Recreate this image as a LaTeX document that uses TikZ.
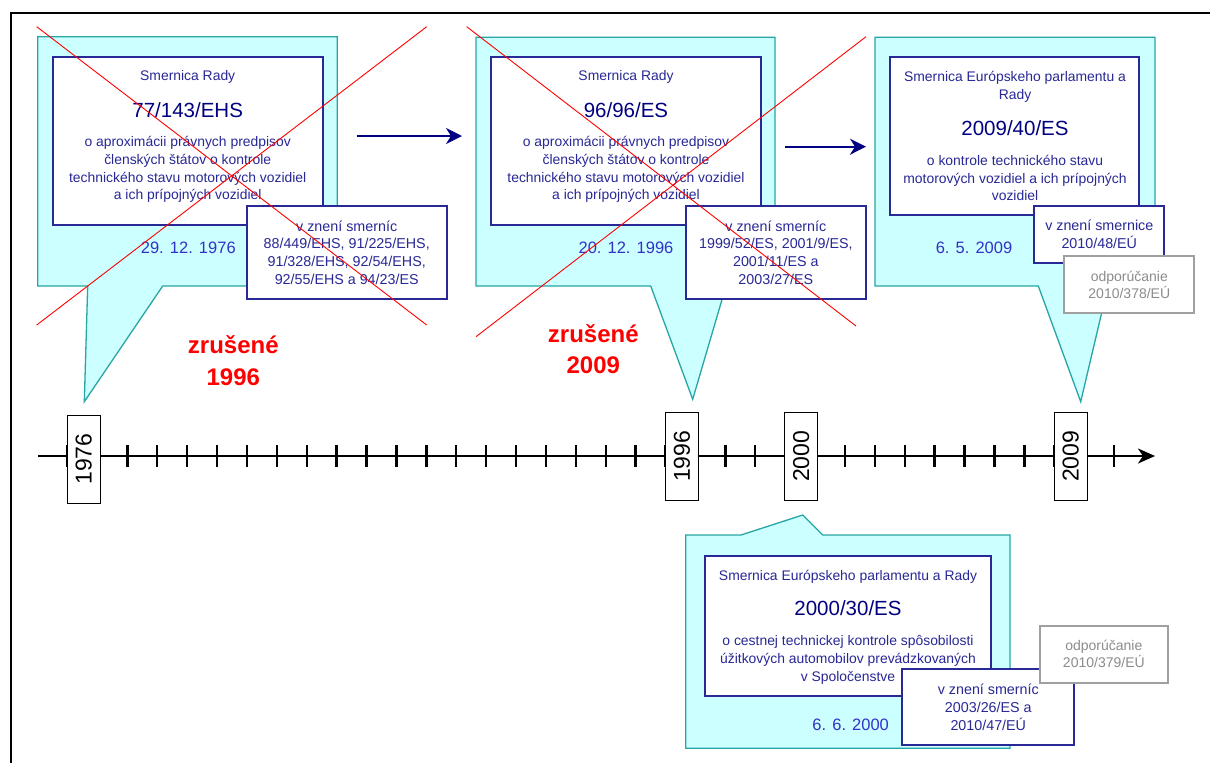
\documentclass[tikz,border=0pt]{standalone}
\usepackage{fontspec}
\setmainfont{Liberation Sans}
\usetikzlibrary{arrows.meta, positioning}
\definecolor{cfill}{RGB}{204,255,255}
\definecolor{cline}{RGB}{40,165,165}
\definecolor{bblue}{RGB}{40,40,150}
\definecolor{navy}{RGB}{0,0,128}
\definecolor{dblue}{RGB}{50,50,200}
\definecolor{gline}{RGB}{160,160,160}
\definecolor{gtext}{RGB}{140,140,140}
\newcommand{\fs}[2]{\fontsize{#1}{#2}\selectfont}

\begin{document}
\begin{tikzpicture}[
    x=1pt, y=-1pt,
    callout/.style={draw=cline, fill=cfill, line width=1.3pt},
    inbox/.style={draw=bblue, fill=white, line width=2pt, inner sep=0pt},
    title/.style={text=bblue, font=\fs{13.9}{17.4}, align=center},
    code/.style={text=navy, font=\fs{20.5}{24}},
    desc/.style={text=bblue, font=\fs{13.9}{17.6}, align=center},
    date/.style={text=dblue, font=\fs{16.5}{20}},
    zn/.style={draw=bblue, fill=white, line width=1.8pt, text=bblue, font=\fs{14.3}{17.7}, align=center, inner sep=0pt},
    rec/.style={draw=gline, fill=white, line width=1.8pt, text=gtext, font=\fs{14}{17.3}, align=center, inner sep=0pt},
    cross/.style={draw=red, line width=0.9pt},
    gone/.style={text=red, font=\bfseries\fs{24}{31.7}, align=center},
    arr/.style={-{Stealth[length=16pt,width=16pt,inset=5pt]}, line width=2pt, draw=navy},
    axis/.style={-{Stealth[length=17pt,width=15pt,inset=5pt]}, line width=2.5pt},
    tick/.style={line width=2.4pt},
    year/.style={draw, fill=white, line width=0.8pt, rotate=90, minimum width=88pt, minimum height=33pt, inner sep=0pt, font=\fs{23}{23}}
  ]
    \useasboundingbox (0,0) rectangle (1210,763);
    \draw[line width=2pt] (10.7,763) -- (10.7,13.3) -- (1210,13.3);

    \coordinate (tip76) at (84.3,401.7);
    \coordinate (tip96) at (692.7,399.3);
    \coordinate (tip09) at (1080.7,401.7);
    \coordinate (tip00) at (802.7,515);

    \draw[callout] (37.7,36.7) -- (337.3,36.7) -- (337.3,286) -- (162.7,286) -- (tip76) -- (87.7,286) -- (37.7,286) -- cycle;
    \draw[callout] (476,37.3) -- (775,37.3) -- (775,286) -- (726,286) -- (tip96) -- (650.7,286) -- (476,286) -- cycle;
    \draw[callout] (875,37.3) -- (1155,37.3) -- (1155,286) -- (1108,286) -- (tip09) -- (1038.3,286) -- (875,286) -- cycle;
    \draw[callout] (685.7,535) -- (741,535) -- (tip00) -- (822.7,535) -- (1010,535) -- (1010,748.3) -- (685.7,748.3) -- cycle;

    \node[inbox, minimum width=270pt, minimum height=168.6pt] (in76) at (187.7,141) {};
    \node[title] (t76) at (187.7,76.7) {Smernica Rady};
    \node[code]  (k76) at (187.7,110) {77/143/EHS};
    \node[desc]  (d76) at (187.7,169.6) {o aproximácii právnych predpisov\\členských štátov o kontrole\\technického stavu motorových vozidiel\\a ich prípojných vozidiel};
    \node[date]  (dt76) at (188.3,248.3) {29. 12. 1976};

    \node[inbox, minimum width=269.7pt, minimum height=168.6pt] (in96) at (625.85,141) {};
    \node[title] (t96) at (626,76.7) {Smernica Rady};
    \node[code]  (k96) at (626,110) {96/96/ES};
    \node[desc]  (d96) at (626,169.6) {o aproximácii právnych predpisov\\členských štátov o kontrole\\technického stavu motorových vozidiel\\a ich prípojných vozidiel};
    \node[date]  (dt96) at (626,248.3) {20. 12. 1996};

    \node[inbox, minimum width=249.3pt, minimum height=158.3pt] (in09) at (1014.65,135.85) {};
    \node[title] (t09) at (1015,87) {Smernica Európskeho parlamentu a\\Rady};
    \node[code]  (k09) at (1015,127.7) {2009/40/ES};
    \node[desc]  (d09) at (1015,178.2) {o kontrole technického stavu\\motorových vozidiel a ich prípojných\\vozidiel};
    \node[date]  (dt09) at (974,248.3) {6. 5. 2009};

    \node[inbox, minimum width=285.7pt, minimum height=140.3pt] (in00) at (847.85,625.85) {};
    \node[title] (t00) at (848,576.7) {Smernica Európskeho parlamentu a Rady};
    \node[code]  (k00) at (848,608.3) {2000/30/ES};
    \node[desc]  (d00) at (848,659.8) {o cestnej technickej kontrole spôsobilosti\\úžitkových automobilov prevádzkovaných\\v Spoločenstve};
    \node[date]  (dt00) at (850.7,725) {6. 6. 2000};

    \node[zn, minimum width=200pt, minimum height=93.3pt] (zn76) at (346.7,252.65) {v znení smerníc\\88/449/EHS, 91/225/EHS,\\91/328/EHS, 92/54/EHS,\\92/55/EHS a 94/23/ES};
    \node[zn, minimum width=180.3pt, minimum height=93.3pt] (zn96) at (775.85,252.65) {v znení smerníc\\1999/52/ES, 2001/9/ES,\\2001/11/ES a\\2003/27/ES};
    \node[zn, minimum width=130pt, minimum height=57.3pt] (zn09) at (1099.3,234.65) {v znení smernice\\2010/48/EÚ};
    \node[rec, minimum width=130pt, minimum height=57.3pt] (rec09) at (1129.3,284.65) {odporúčanie\\2010/378/EÚ};
    \node[zn, minimum width=172pt, minimum height=75.7pt] (zn00) at (988.3,707.15) {v znení smerníc\\2003/26/ES a\\2010/47/EÚ};
    \node[rec, minimum width=127.7pt, minimum height=57pt] (rec00) at (1103.85,654.2) {odporúčanie\\2010/379/EÚ};

    \draw[cross] (36.7,26.7) -- (426.7,325);
    \draw[cross] (36.7,325) -- (426.7,26.7);
    \draw[cross] (466.7,26.7) -- (856,326);
    \draw[cross] (476,336.7) -- (866,36.7);

    \node[gone] (g76) at (233.3,361) {zrušené\\1996};
    \node[gone] (g96) at (593.3,349.2) {zrušené\\2009};

    \coordinate (a1s) at (356.7,136);
    \coordinate (a1e) at (462,136);
    \coordinate (a2s) at (785,146.7);
    \coordinate (a2e) at (866,146.7);
    \draw[arr] (a1s) -- (a1e);
    \draw[arr] (a2s) -- (a2e);

    \coordinate (ax0) at (38,456);
    \coordinate (ax1) at (1155,456);
    \draw[axis] (ax0) -- (ax1);
    \foreach \k in {0,...,35}
      \draw[tick] ({67.5+29.9*\k},445) -- ({67.5+29.9*\k},467);

    \node[year] (y76) at (83.7,459) {1976};
    \node[year] (y96) at (682,456.3) {1996};
    \node[year] (y00) at (801.2,456.3) {2000};
    \node[year] (y09) at (1070.8,456.2) {2009};
  \end{tikzpicture}
\end{document}
